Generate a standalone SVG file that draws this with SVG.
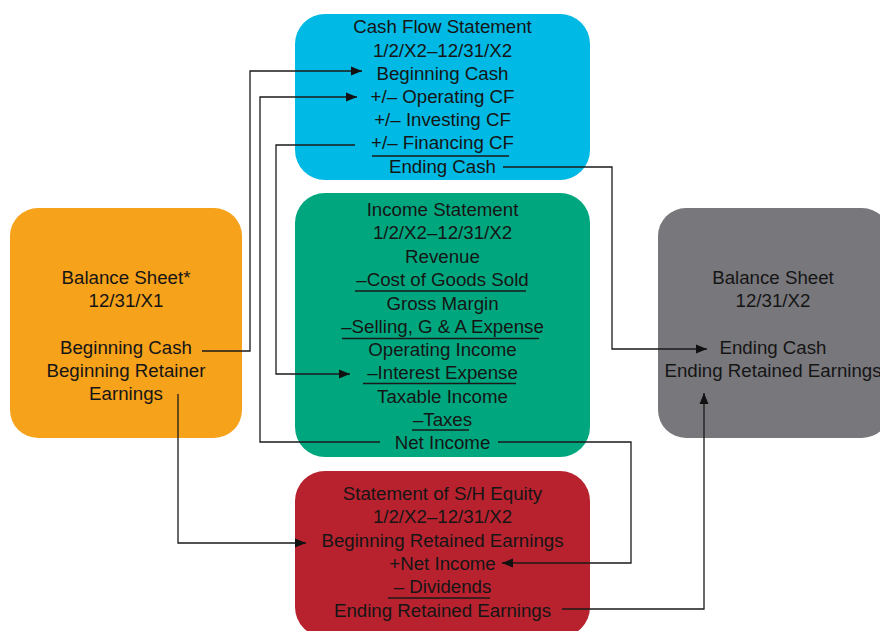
<svg xmlns="http://www.w3.org/2000/svg" width="880" height="631" viewBox="0 0 880 631">
<defs>
<style>
text{font-family:"Liberation Sans",Arial,sans-serif;font-size:18.7px;fill:#151515;text-anchor:middle}
.c{fill:none;stroke:#1a1a1a;stroke-width:1.3}
.u{stroke:#1a1a1a;stroke-width:1.3}
</style>
<marker id="ah" markerUnits="userSpaceOnUse" markerWidth="12" markerHeight="10" refX="11" refY="5" orient="auto">
<path d="M0,0.5 L11,5 L0,9.5 z" fill="#111"/>
</marker>
</defs>
<rect width="880" height="631" fill="#fff"/>

<g id="cashflow">
<rect x="295" y="14" width="295" height="166" rx="30" fill="#00b9e4"/>
<text x="442.5" y="33">Cash Flow Statement</text>
<text x="442.5" y="56.5">1/2/X2–12/31/X2</text>
<text x="442.5" y="80">Beginning Cash</text>
<text x="442.5" y="103">+/– Operating CF</text>
<text x="442.5" y="126">+/– Investing CF</text>
<text x="442.5" y="149">+/– Financing CF</text>
<line class="u" x1="372" y1="156" x2="509" y2="156"/>
<text x="442.5" y="172.5">Ending Cash</text>
</g>

<g id="income">
<rect x="295" y="193" width="295" height="264" rx="30" fill="#00a77e"/>
<text x="442.5" y="216">Income Statement</text>
<text x="442.5" y="239">1/2/X2–12/31/X2</text>
<text x="442.5" y="262.5">Revenue</text>
<text x="442.5" y="286">–Cost of Goods Sold</text>
<line class="u" x1="355" y1="291" x2="526" y2="291"/>
<text x="442.5" y="309.5">Gross Margin</text>
<text x="442.5" y="332.5">–Selling, G &amp; A Expense</text>
<line class="u" x1="342" y1="338.5" x2="539" y2="338.5"/>
<text x="442.5" y="356">Operating Income</text>
<text x="442.5" y="379">–Interest Expense</text>
<line class="u" x1="363" y1="383.5" x2="516" y2="383.5"/>
<text x="442.5" y="402.5">Taxable Income</text>
<text x="442.5" y="425.5">–Taxes</text>
<line class="u" x1="412" y1="430" x2="469" y2="430"/>
<text x="442.5" y="448.5">Net Income</text>
</g>

<g id="equity">
<rect x="295" y="471" width="295" height="166" rx="30" fill="#b8222f"/>
<text x="442.5" y="499.5">Statement of S/H Equity</text>
<text x="442.5" y="523">1/2/X2–12/31/X2</text>
<text x="442.5" y="546.5">Beginning Retained Earnings</text>
<text x="442.5" y="570">+Net Income</text>
<text x="442.5" y="593">– Dividends</text>
<line class="u" x1="388" y1="598" x2="490" y2="598"/>
<text x="442.5" y="616.5">Ending Retained Earnings</text>
</g>

<g id="bs-x1">
<rect x="10" y="208" width="232" height="230" rx="28" fill="#f7a21b"/>
<text x="126" y="283.5">Balance Sheet*</text>
<text x="126" y="307">12/31/X1</text>
<text x="126" y="353.5">Beginning Cash</text>
<text x="126" y="377">Beginning Retainer</text>
<text x="126" y="400">Earnings</text>
</g>

<g id="bs-x2">
<rect x="658" y="208" width="232" height="230" rx="28" fill="#78777c"/>
<text x="773" y="283.5">Balance Sheet</text>
<text x="773" y="307">12/31/X2</text>
<text x="773" y="353.5">Ending Cash</text>
<text x="773" y="377">Ending Retained Earnings</text>
</g>

<g id="connectors">
<path class="c" d="M202,351 H250 V71 H362" marker-end="url(#ah)"/>
<path class="c" d="M380,442 H260 V97 H357" marker-end="url(#ah)"/>
<path class="c" d="M355,145 H276 V374 H350" marker-end="url(#ah)"/>
<path class="c" d="M503,167 H612 V349 H707" marker-end="url(#ah)"/>
<path class="c" d="M498,442 H631 V563 H502" marker-end="url(#ah)"/>
<path class="c" d="M178,394 V543 H306" marker-end="url(#ah)"/>
<path class="c" d="M562,609 H704 V393" marker-end="url(#ah)"/>
</g>
</svg>
